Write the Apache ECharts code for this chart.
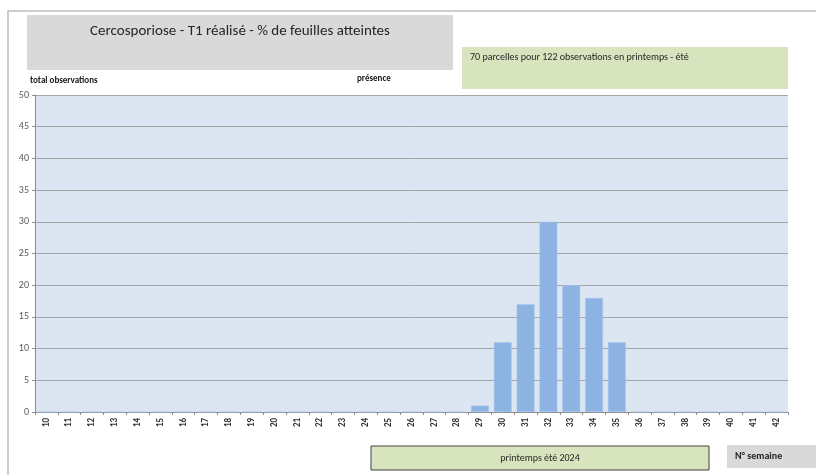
<!DOCTYPE html>
<html>
<head>
<meta charset="utf-8">
<script src="https://cdn.jsdelivr.net/npm/echarts@6/dist/echarts.min.js"></script>
<style>
  html, body { margin: 0; padding: 0; background: #fff; }
  #chart { width: 816px; height: 475px; }
</style>
</head>
<body>
<div id="chart"></div>
<script>
// semaines et nombre de parcelles avec présence
var semaines = ['10','11','12','13','14','15','16','17','18','19','20','21','22','23','24','25','26',
  '27','28','29','30','31','32','33','34','35','36','37','38','39','40','41','42'];
var presence = [0,0,0,0,0,0,0,0,0,0,0,0,0,0,0,0,0,0,0,1,11,17,30,20,18,11,0,0,0,0,0,0,0];
var yTicks = [0, 50, 5];

var titre = 'Cercosporiose - T1 réalisé - % de feuilles atteintes';
var sousTitre = '70 parcelles pour 122 observations en printemps - été';
var saison = 'printemps été 2024';

var font = "Calibri, 'Liberation Sans', 'Open Sans', sans-serif";
var chart = echarts.init(document.getElementById('chart'));

chart.setOption({
  animation: false,
  grid: { left: 35, right: 28, top: 95, bottom: 63, show: true, backgroundColor: '#dce6f2', borderWidth: 0 },
  xAxis: {
    type: 'category',
    data: semaines,
    axisLine: { lineStyle: { color: '#8c8c8c' } },
    axisTick: { show: true, alignWithLabel: false, length: 3, lineStyle: { color: '#8c8c8c' } },
    axisLabel: { rotate: 90, fontSize: 9, fontWeight: 'bold', color: '#333', fontFamily: font, margin: 6 }
  },
  yAxis: {
    type: 'value',
    min: yTicks[0], max: yTicks[1], interval: yTicks[2],
    axisLine: { show: true, lineStyle: { color: '#8c8c8c' } },
    axisTick: { show: true, length: 3, lineStyle: { color: '#8c8c8c' } },
    axisLabel: { fontSize: 10, color: '#595959', fontFamily: font, margin: 6 },
    splitLine: { lineStyle: { color: '#a6a6a6', width: 1 } }
  },
  series: [{
    type: 'bar',
    data: presence,
    barCategoryGap: '22%',
    itemStyle: { color: '#8db3e2', borderColor: '#a9c6ea', borderWidth: 0.5 }
  }],
  graphic: [
    { type: 'rect', z: -1, shape: { x: 8, y: 11, width: 830, height: 480 },
      style: { fill: 'none', stroke: '#bfbfbf', lineWidth: 1.5 } },
    { type: 'rect', shape: { x: 27, y: 15, width: 426, height: 55 }, style: { fill: '#d9d9d9' } },
    { type: 'text', x: 240, y: 31, style: { text: titre, font: '15px ' + font, fill: '#262626', align: 'center', verticalAlign: 'middle' } },
    { type: 'rect', shape: { x: 462, y: 47, width: 326, height: 42 }, style: { fill: '#d7e4bd' } },
    { type: 'text', x: 470, y: 57, style: { text: sousTitre, font: '10px ' + font, fill: '#262626', verticalAlign: 'middle' } },
    { type: 'text', x: 30, y: 81, style: { text: 'total observations', font: 'bold 9px ' + font, fill: '#1a1a1a', verticalAlign: 'middle' } },
    { type: 'text', x: 357, y: 79, style: { text: 'présence', font: 'bold 9px ' + font, fill: '#1a1a1a', verticalAlign: 'middle' } },
    { type: 'rect', shape: { x: 371, y: 446, width: 338, height: 24 }, style: { fill: '#d7e4bd', stroke: '#404040', lineWidth: 1 } },
    { type: 'text', x: 540, y: 458, style: { text: saison, font: '10px ' + font, fill: '#262626', align: 'center', verticalAlign: 'middle' } },
    { type: 'rect', shape: { x: 727, y: 445, width: 89, height: 23 }, style: { fill: '#d9d9d9' } },
    { type: 'text', x: 735, y: 456, style: { text: 'N° semaine', font: 'bold 10px ' + font, fill: '#262626', verticalAlign: 'middle' } }
  ]
});
</script>
</body>
</html>
